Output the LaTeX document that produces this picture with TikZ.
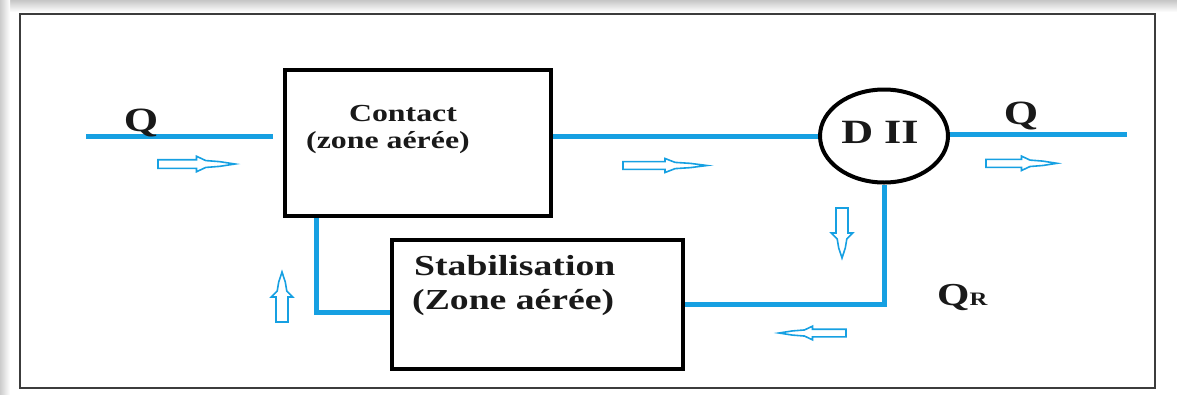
\documentclass[tikz,border=0pt]{standalone}
\usepackage{fontspec}
\setmainfont{Liberation Serif}
\newfontfamily\widefont[FakeStretch=1.3]{Liberation Serif}
\usetikzlibrary{shapes.geometric,calc}
\definecolor{flowblue}{RGB}{22,160,226}
\definecolor{framegray}{RGB}{60,60,60}

\tikzset{
  unitbox/.style 2 args={draw=black, line width=4pt, fill=white, inner sep=0pt,
    minimum width=#1, minimum height=#2},
  pipe/.style={draw=flowblue, line width=5pt},
  lbl/.style={inner sep=0pt, text=black!90},
  arrowline/.style={draw=flowblue, line width=1.6pt, fill=white, line join=miter},
  pics/flowarrow/.style 2 args={code={
    \draw[arrowline] (0,#2) -- (0.5*#1,#2) -- (0.5*#1,1.8*#2) -- (0.62*#1,0.8*#2)
      -- (0.8*#1,0.55*#2) -- (#1,0) -- (0.8*#1,-0.55*#2) -- (0.62*#1,-0.8*#2)
      -- (0.5*#1,-1.8*#2) -- (0.5*#1,-#2) -- (0,-#2) -- cycle;
  }}
}

\begin{document}
\begin{tikzpicture}[x=1pt,y=-1pt]
  \useasboundingbox (0,0) rectangle (1177,394);
  % soft edge shadow and outer frame
  \shade[top color=gray!45, bottom color=white] (0,0) rectangle (1177,12);
  \shade[left color=gray!40, right color=white] (0,0) rectangle (10,394);
  \draw[framegray, line width=2pt] (20,14) rectangle (1155,388);

  % process units
  \node[unitbox={266pt}{146pt}] (contact) at (418,143) {};
  \node[unitbox={291pt}{129pt}] (stab) at (537.5,304.5) {};
  \node[ellipse, draw=black, line width=4pt, inner sep=0pt,
        minimum width=128pt, minimum height=93pt] (dii) at (884,136) {};

  % end points of the main flow
  \coordinate (qin) at (86,136);
  \coordinate (qout) at (1127,134);

  % pipes
  \draw[pipe] (qin) -- ($(qin -| contact.west)+(-10,0)$);
  \draw[pipe] (contact.east |- dii.west) -- (dii.west);
  \draw[pipe] (dii.east |- qout) -- (qout);
  \draw[pipe] (dii.south) |- (stab.east);
  \draw[pipe] ($(contact.south west)+(33,0)$) |- ($(stab.west)+(0,7.5)$);

  % labels
  \node[lbl, anchor=base, font=\widefont\bfseries\fontsize{34}{34}\selectfont] (qinlbl) at (141,131) {Q};
  \node[lbl, anchor=base, font=\widefont\bfseries\fontsize{34}{34}\selectfont] (qoutlbl) at (1021,124) {Q};
  \node[lbl, anchor=base, font=\widefont\bfseries\fontsize{34}{34}\selectfont] (diilbl) at (880,143) {D II};
  \node[lbl, anchor=base, font=\widefont\bfseries\fontsize{24.5}{24.5}\selectfont] (c1) at (403,121) {Contact};
  \node[lbl, anchor=base, font=\widefont\bfseries\fontsize{24.5}{24.5}\selectfont] (c2) at (388,148) {(zone aérée)};
  \node[lbl, anchor=base west, font=\widefont\bfseries\fontsize{29}{29}\selectfont] (s1) at (414,275) {Stabilisation};
  \node[lbl, anchor=base west, font=\widefont\bfseries\fontsize{29}{29}\selectfont] (s2) at (412,309) {(Zone aérée)};
  \node[lbl, anchor=base west, font=\widefont\bfseries\fontsize{32}{32}\selectfont] (qr) at (937,305)
    {Q{\fontsize{19}{19}\selectfont R}};

  % flow direction markers
  \pic at (158,164) {flowarrow={77}{4.3}};
  \pic at (623,165.5) {flowarrow={84}{3.9}};
  \pic at (986,163.3) {flowarrow={71}{4}};
  \pic[rotate=270] at (842,208) {flowarrow={50}{6}};
  \pic[rotate=180] at (846,333) {flowarrow={67}{3.8}};
  \pic[rotate=90] at (282,322) {flowarrow={50}{6}};
\end{tikzpicture}
\end{document}
